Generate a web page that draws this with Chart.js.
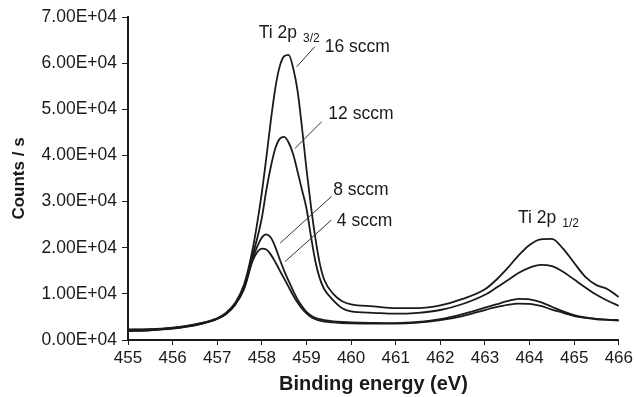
<!DOCTYPE html>
<html>
<head>
<meta charset="utf-8">
<script src="https://cdn.jsdelivr.net/npm/chart.js@4.4.0/dist/chart.umd.min.js"></script>
<style>
  html, body { margin: 0; padding: 0; background: #fff; }
  #wrap { width: 636px; height: 397px; }
</style>
</head>
<body>
<div id="wrap"><canvas id="xps"></canvas></div>
<script>
// Ti 2p XPS spectra for four N2/O2 flow rates
const flows = ['16 sccm', '12 sccm', '8 sccm', '4 sccm'];

const energy = [455, 455.5, 456, 456.5, 457, 457.2, 457.4, 457.6, 457.8,
  458.0, 458.1, 458.2, 458.3, 458.4, 458.5, 458.6, 458.7, 458.8, 458.9,
  459.0, 459.1, 459.2, 459.3, 459.4, 459.6, 459.8, 460,
  460.5, 461, 461.5, 462, 462.5, 463,
  463.25, 463.5, 463.75, 464, 464.25, 464.5, 464.75, 465, 465.25, 465.5, 465.75, 466];

const counts16 = [2300, 2350, 2700, 3400, 4700, 5900, 8000, 12000, 20000,
  32000, 39500, 47500, 54500, 59300, 61500, 61800, 59000, 54000, 46000,
  37000, 29000, 22000, 16500, 13000, 10000, 8400, 7700,
  7300, 6900, 6900, 7500, 8900, 11000,
  13000, 15500, 18300, 20600, 21800, 21900, 19800, 16700, 13700, 11900, 11000, 9300];

const counts12 = [2200, 2300, 2650, 3350, 4650, 5800, 7800, 11500, 18500,
  26500, 32500, 37500, 41500, 43600, 44000, 42800, 40300, 36500, 32500,
  28500, 22500, 17000, 13300, 11000, 8600, 6900, 6200,
  5900, 5700, 5900, 6500, 7800, 9800,
  11300, 12900, 14500, 15700, 16300, 16000, 14800, 13100, 11400, 9800, 8500, 7400];

const counts8 = [2000, 2150, 2500, 3200, 4600, 5700, 7700, 11200, 17800,
  22200, 22900, 22200, 20200, 17500, 15000, 12800, 10700, 8800, 7300,
  6100, 5300, 4800, 4500, 4300, 4050, 3900, 3800,
  3700, 3650, 3900, 4500, 5600, 7000,
  7700, 8400, 8900, 8800, 8200, 7200, 6200, 5400, 4900, 4600, 4400, 4300];

const counts4 = [1950, 2100, 2450, 3150, 4550, 5650, 7600, 11000, 17300,
  19800, 19600, 18500, 16900, 15100, 13300, 11500, 9700, 8100, 6800,
  5800, 5000, 4500, 4200, 4000, 3800, 3650, 3600,
  3550, 3550, 3750, 4300, 5200, 6500,
  7100, 7600, 7900, 7850, 7400, 6600, 5900, 5200, 4800, 4500, 4350, 4200];

const yTickLabels = ['0.00E+04', '1.00E+04', '2.00E+04', '3.00E+04',
  '4.00E+04', '5.00E+04', '6.00E+04', '7.00E+04'];

const FONT = '"Liberation Sans", Arial, sans-serif';
const INK = '#1a1a1a';

const series = [counts16, counts12, counts8, counts4];
const datasets = series.map((vals, i) => ({
  label: flows[i],
  data: energy.map((e, j) => ({ x: e, y: vals[j] })),
  borderColor: INK,
  borderWidth: 1.8,
  pointRadius: 0,
  fill: false,
  cubicInterpolationMode: 'monotone'
}));

// peak labels + leader lines, placed in data units
const peakNotes = {
  id: 'peakNotes',
  afterDatasetsDraw(chart) {
    const { ctx, scales: { x, y } } = chart;
    const px = v => x.getPixelForValue(v);
    const py = v => y.getPixelForValue(v);

    ctx.save();
    ctx.fillStyle = INK;
    ctx.strokeStyle = '#333';
    ctx.lineWidth = 1;
    ctx.textBaseline = 'alphabetic';
    ctx.textAlign = 'left';

    // leader lines: [fromE, fromC, toE, toC]
    const leaders = [
      [458.78, 59200, 459.19, 63600],
      [458.74, 41500, 459.34, 47300],
      [458.41, 21000, 459.56, 31100],
      [458.52, 17000, 459.56, 26000]
    ];
    leaders.forEach(l => {
      ctx.beginPath();
      ctx.moveTo(px(l[0]), py(l[1]));
      ctx.lineTo(px(l[2]), py(l[3]));
      ctx.stroke();
    });

    ctx.font = '17.5px ' + FONT;
    const spots = [[459.41, 62400], [459.49, 48000], [459.6, 31400], [459.68, 24800]];
    spots.forEach((s, i) => ctx.fillText(flows[i], px(s[0]), py(s[1])));

    // Ti 2p with subscript
    const sub = (e, c, main, small) => {
      ctx.font = '17.5px ' + FONT;
      const x0 = px(e), y0 = py(c);
      ctx.fillText(main, x0, y0);
      const w = ctx.measureText(main).width;
      ctx.font = '12px ' + FONT;
      ctx.fillText(small, x0 + w + 6, y0 + 4);
    };
    sub(457.93, 65400, 'Ti 2p', '3/2');
    sub(463.74, 25400, 'Ti 2p', '1/2');
    ctx.restore();
  }
};

new Chart(document.getElementById('xps'), {
  type: 'line',
  data: { datasets },
  options: {
    responsive: true,
    maintainAspectRatio: false,
    animation: false,
    layout: { padding: { left: 0, right: 17, top: 17, bottom: 0 } },
    plugins: { legend: { display: false }, tooltip: { enabled: false } },
    scales: {
      x: {
        type: 'linear',
        min: 455,
        max: 466,
        ticks: { stepSize: 1, color: INK, padding: 3, font: { family: FONT, size: 17 } },
        grid: { display: true, drawOnChartArea: false, drawTicks: true, tickLength: 5, color: INK },
        border: { display: true, color: INK, width: 2 },
        title: { display: true, text: 'Binding energy (eV)', color: INK,
          font: { family: FONT, size: 20, weight: 'bold' }, padding: { top: 0, bottom: 1 } },
        afterFit: s => { s.height = 57; }
      },
      y: {
        min: 0,
        max: 70000,
        ticks: { stepSize: 10000, color: INK, padding: 5, font: { family: FONT, size: 17.5 },
          callback: (v, i) => yTickLabels[i] },
        grid: { display: true, drawOnChartArea: false, drawTicks: true, tickLength: 6, color: INK },
        border: { display: true, color: INK, width: 2 },
        title: { display: true, text: 'Counts / s', color: INK,
          font: { family: FONT, size: 17, weight: 'bold' }, padding: { top: 9, bottom: 0 } },
        afterFit: s => { s.width = 128; }
      }
    }
  },
  plugins: [peakNotes]
});
</script>
</body>
</html>
